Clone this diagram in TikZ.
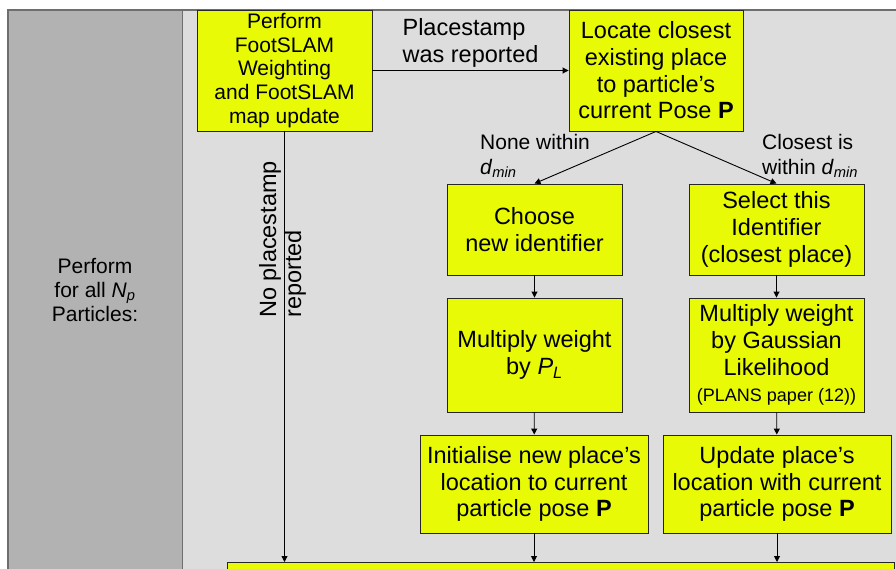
\documentclass[tikz,border=0pt]{standalone}
\usepackage{fontspec}
\setmainfont{Liberation Sans}
\usetikzlibrary{arrows.meta}
\definecolor{panelL}{RGB}{178,178,178}
\definecolor{panelR}{RGB}{221,221,221}
\definecolor{stepyellow}{RGB}{232,250,5}
\definecolor{framegray}{RGB}{110,110,110}

\begin{document}
\begin{tikzpicture}[x=1pt,y=-1pt,
  box/.style={draw=black!85, line width=0.9pt, fill=stepyellow, align=center,
    inner sep=0pt, font=\fontsize{23.5}{26.7}\selectfont},
  arr/.style={draw=black, line width=0.9pt, -{Triangle[length=6pt,width=6pt]}},
  lbl/.style={inner sep=0pt, align=left, font=\fontsize{21}{25}\selectfont}]
\useasboundingbox (0,0) rectangle (896,568);
\clip (0,0) rectangle (896,568);

% background panels
\fill[panelL] (8,10) rectangle (182,600);
\fill[panelR] (182,10) rectangle (910,600);
\draw[framegray, line width=1.3pt] (910,10) -- (8,10) -- (8,600);
\draw[framegray, line width=1pt] (182,10) -- (182,600);

\node[align=center, inner sep=0pt, font=\fontsize{21}{24}\selectfont] (loop) at (95,290)
  {Perform\\for all \textit{N}\textsubscript{\textit{p}}\\Particles:};

% process steps
\node[box, minimum width=175pt, minimum height=121pt, font=\fontsize{21}{23.6}\selectfont]
  (weigh) at (284.5,70.5) {Perform\\FootSLAM\\Weighting\\and FootSLAM\\map update};
\node[box, minimum width=174pt, minimum height=121pt]
  (locate) at (656,70.5) {Locate closest\\existing place\\to particle's\\current Pose \textbf{P}};
\node[box, minimum width=175pt, minimum height=91pt]
  (choose) at (534.5,229.5) {Choose\\new identifier};
\node[box, minimum width=175pt, minimum height=91pt]
  (select) at (776.5,229.5) {Select this\\Identifier\\(closest place)};
\node[box, minimum width=175pt, minimum height=114pt]
  (multpl) at (534.5,355) {Multiply weight\\by \textit{P}\textsubscript{\textit{L}}};
\node[box, minimum width=175pt, minimum height=114pt]
  (multgs) at (776.5,355) {Multiply weight\\by Gaussian\\Likelihood\\{\fontsize{18}{22}\selectfont (PLANS paper (12))}};
\node[box, minimum width=228pt, minimum height=98pt]
  (initpl) at (534,484) {Initialise new place's\\location to current\\particle pose \textbf{P}};
\node[box, minimum width=228pt, minimum height=98pt]
  (updpl) at (777,484) {Update place's\\location with current\\particle pose \textbf{P}};
\node[box, anchor=north west, minimum width=667pt, minimum height=40pt]
  (finish) at (227,562) {};

% connectors
\draw[arr] (weigh) -- node[above=3pt, inner sep=0pt, align=left,
  font=\fontsize{23.5}{26.5}\selectfont] (stamp) {Placestamp\\was reported} (locate);
\draw[arr] (locate.south) -- (choose.north);
\draw[arr] (locate.south) -- (select.north);
\draw[arr] (choose) -- (multpl);
\draw[arr] (select) -- (multgs);
\draw[arr] (multpl) -- (initpl);
\draw[arr] (multgs) -- (updpl);
\draw[arr] (weigh.south) -- (weigh.south |- finish.north);
\draw[arr] (initpl.south) -- (initpl.south |- finish.north);
\draw[arr] (updpl.south) -- (updpl.south |- finish.north);

% branch labels
\node[lbl, anchor=north west] (none) at (480,134)
  {None within\\\textit{d}\textsubscript{\textit{min}}};
\node[lbl, anchor=north west] (close) at (762,134)
  {Closest is\\within \textit{d}\textsubscript{\textit{min}}};
\node[lbl, rotate=90, anchor=north west, font=\fontsize{23.5}{25}\selectfont]
  (nostamp) at (259,318) {No placestamp\\reported};
\end{tikzpicture}
\end{document}
